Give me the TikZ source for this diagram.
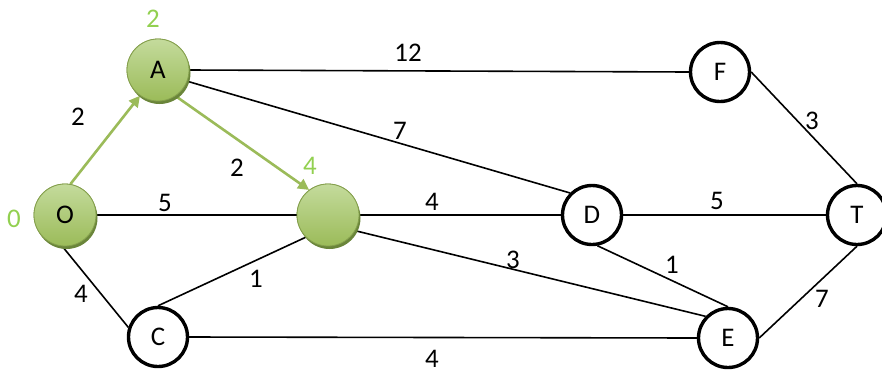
\documentclass[tikz,border=0pt]{standalone}
\usepackage{fontspec}
\setmainfont{Carlito}
\usetikzlibrary{arrows.meta,shadows}
\definecolor{ogreen}{HTML}{9BBB59}
\definecolor{olight}{HTML}{C4DB9C}
\definecolor{oshadow}{HTML}{6A853A}
\definecolor{lgreen}{HTML}{92D050}
\tikzset{
  bnode/.style={circle, draw=black, line width=3.4bp, fill=white, minimum size=59bp, inner sep=0pt, font=\fontsize{27}{30}\selectfont},
  gnode/.style={circle, draw=ogreen!85!black, line width=0.8bp, top color=olight, bottom color=ogreen, minimum size=62bp, inner sep=0pt, font=\fontsize{27}{30}\selectfont},
  gshadow/.style={circle, fill=oshadow, minimum size=62bp, inner sep=0pt},
  edge/.style={line width=1.6bp, black},
  garrow/.style={line width=2.6bp, ogreen, -{Triangle[length=11bp,width=11bp]}},
  wlab/.style={font=\fontsize{27}{30}\selectfont, inner sep=0pt},
  glab/.style={font=\fontsize{27}{30}\selectfont, inner sep=0pt, text=lgreen},
}
\begin{document}
\begin{tikzpicture}[x=1bp,y=-1bp]
\useasboundingbox (0,0) rectangle (882,373);
% nodes
\node[gnode] (A) at (158,70) {A};
\node[gnode] (O) at (65,215) {O};
\node[gnode] (B) at (328,215) {};
\node[bnode] (C) at (158,337) {C};
\node[bnode] (D) at (592,215) {D};
\node[bnode] (E) at (728,338) {E};
\node[bnode] (F) at (720,72) {F};
\node[bnode] (T) at (857,215) {T};
% edges
\draw[edge] (A.east) -- (F.west);
\draw[edge] (A.-21) -- (D.north west);
\draw[edge] (O.east) -- (B.west);
\draw[edge] (O.-95) -- (C.162);
\draw[edge] (C.north) -- (B.south west);
\draw[edge] (B.east) -- (D.west);
\draw[edge] (B.-30) -- (E.136);
\draw[edge] (C.east) -- (E.west);
\draw[edge] (D.east) -- (T.west);
\draw[edge] (D.-80) -- (E.north);
\draw[edge] (F.east) -- (T.north);
\draw[edge] (E.east) -- (T.south);
\draw[garrow] (O.80) -- (A.235);
\draw[garrow] (A.-56) -- (B.127);
% shadows and green nodes on top
\node[gshadow] (sA) at ([xshift=1.5bp,yshift=-3bp]A.center) {};
\node[gshadow] (sO) at ([xshift=1.5bp,yshift=-3bp]O.center) {};
\node[gshadow] (sB) at ([xshift=1.5bp,yshift=-3bp]B.center) {};
\node[gnode] (A2) at (A) {A};
\node[gnode] (O2) at (O) {O};
\node[gnode] (B2) at (B) {};
% labels
\node[glab] (lA) at (153,19) {2};
\node[glab] (lO) at (14,219) {0};
\node[glab] (lB) at (310,166) {4};
\node[wlab] (eOA) at (78,117) {2};
\node[wlab] (eAB) at (237,168) {2};
\node[wlab] (eOB) at (165,203) {5};
\node[wlab] (eOC) at (81,294) {4};
\node[wlab] (eBC) at (256,279) {1};
\node[wlab] (eAF) at (408,53) {12};
\node[wlab] (eAD) at (400,131) {7};
\node[wlab] (eBD) at (432,202) {4};
\node[wlab] (eBE) at (513,260) {3};
\node[wlab] (eDT) at (717,201) {5};
\node[wlab] (eDE) at (672,265) {1};
\node[wlab] (eFT) at (812,121) {3};
\node[wlab] (eET) at (822,299) {7};
\node[wlab] (eCE) at (432,359) {4};
\end{tikzpicture}
\end{document}
